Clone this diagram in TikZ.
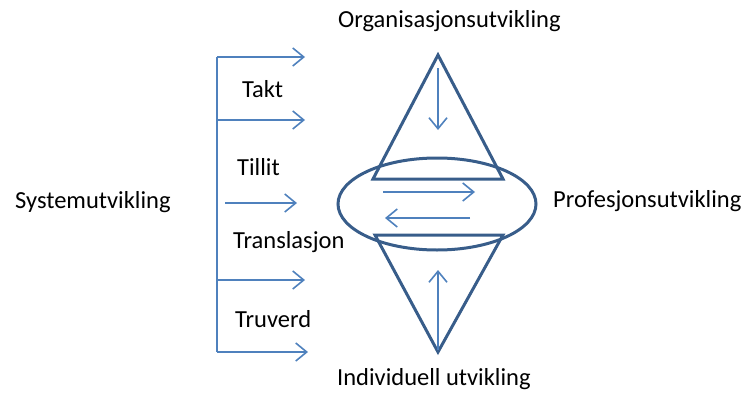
\documentclass[tikz,border=0pt]{standalone}
\usepackage{fontspec}
\setmainfont{Carlito}
\usetikzlibrary{arrows.meta}
\definecolor{shapeblue}{HTML}{385D8A}
\definecolor{arrowblue}{HTML}{4F81BD}

\begin{document}
\begin{tikzpicture}[x=1pt,y=-1pt,
	lbl/.style={anchor=base west,inner sep=0pt,text=black,font=\fontsize{24.5}{28}\selectfont},
	shapeline/.style={draw=shapeblue,line width=3pt},
	flow/.style={draw=arrowblue,line width=1.6pt,-{Straight Barb[length=11pt,width=18pt,line width=1.6pt]}}]
	\useasboundingbox (0,0) rectangle (753,399);
	% labels
	\node[lbl] (sys) at (15, 208) {Systemutvikling};
	\node[lbl] (org) at (338, 27) {Organisasjonsutvikling};
	\node[lbl] (prof) at (553, 207) {Profesjonsutvikling};
	\node[lbl] (ind) at (337, 385) {Individuell utvikling};
	\node[lbl] (takt) at (242, 97) {Takt};
	\node[lbl] (tillit) at (237, 175) {Tillit};
	\node[lbl] (trans) at (233, 248) {Translasjon};
	\node[lbl] (truverd) at (235, 327) {Truverd};
	% left bracket
	\coordinate (b1) at (217, 57);
	\coordinate (b2) at (217, 120);
	\coordinate (b4) at (217, 280);
	\coordinate (b5) at (217, 352);
	\coordinate (e1) at (305, 57);
	\coordinate (e2) at (305, 120);
	\coordinate (s3) at (225, 203);
	\coordinate (e3) at (297, 203);
	\coordinate (e4) at (305, 280);
	\coordinate (e5) at (308, 352);
	\draw[draw=arrowblue,line width=1.8pt] (b1) -- (b5);
	\draw[flow] (b1) -- (e1);
	\draw[flow] (b2) -- (e2);
	\draw[flow] (s3) -- (e3);
	\draw[flow] (b4) -- (e4);
	\draw[flow] (b5) -- (e5);
	% triangles and ellipse
	\coordinate (top) at (438, 55);
	\coordinate (tl) at (373, 179);
	\coordinate (tr) at (503, 179);
	\coordinate (bot) at (438, 352);
	\coordinate (bl) at (375, 235);
	\coordinate (br) at (503, 235);
	\coordinate (mid) at (437, 204);
	\draw[shapeline,line join=miter] (top) -- (tr) -- (tl) -- cycle;
	\draw[shapeline,line join=miter] (bot) -- (br) -- (bl) -- cycle;
	\draw[shapeline] (mid) ellipse [x radius=99, y radius=46];
	% inner arrows
	\coordinate (d1) at (438, 68);
	\coordinate (d2) at (438, 130);
	\coordinate (u1) at (438, 350);
	\coordinate (u2) at (438, 270);
	\coordinate (r1) at (383, 192);
	\coordinate (r2) at (475, 192);
	\coordinate (l1) at (470, 218);
	\coordinate (l2) at (385, 218);
	\draw[flow] (d1) -- (d2);
	\draw[flow] (u1) -- (u2);
	\draw[flow] (r1) -- (r2);
	\draw[flow] (l1) -- (l2);
\end{tikzpicture}
\end{document}
